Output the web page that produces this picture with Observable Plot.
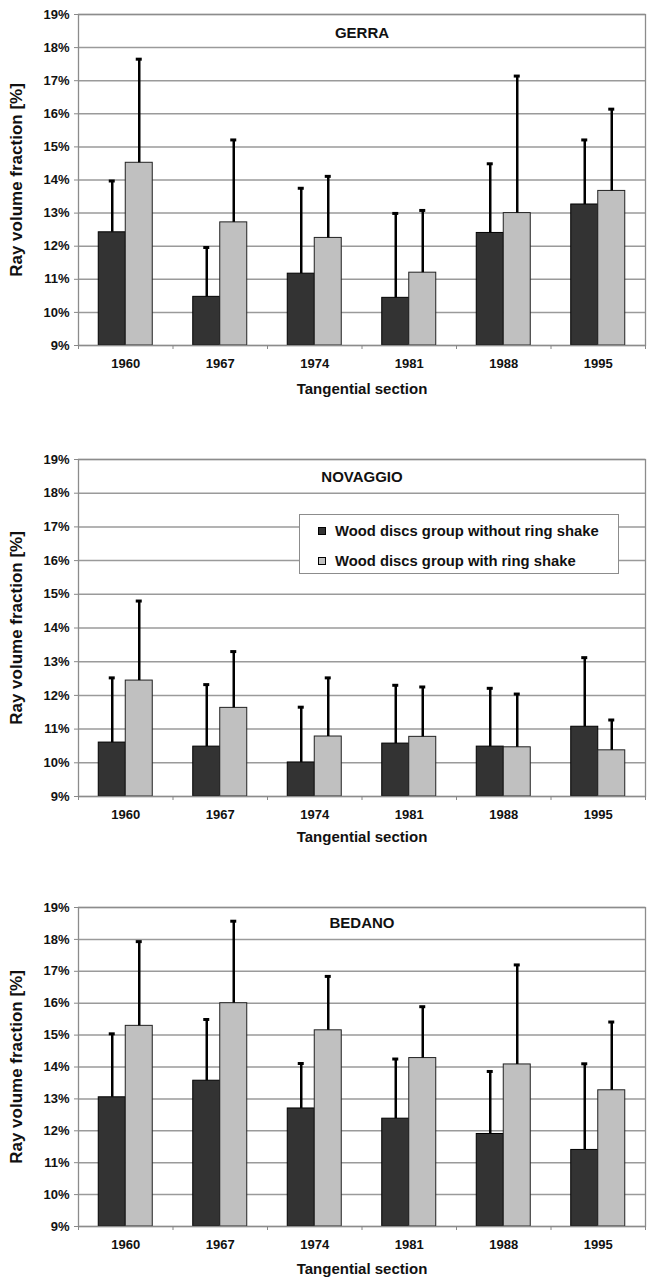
<!DOCTYPE html>
<html>
<head>
<meta charset="utf-8">
<script src="https://cdn.jsdelivr.net/npm/d3@7"></script>
<script src="https://cdn.jsdelivr.net/npm/@observablehq/plot@0.6"></script>
<style>
  html, body { margin: 0; padding: 0; background: #fff; }
  #wrap { position: relative; width: 650px; height: 1278px; overflow: hidden; font-family: "Liberation Sans", Arial, sans-serif; }
  .panel { position: absolute; left: 0; width: 650px; }
  .legend { position: absolute; left: 299px; top: 514px; width: 320px; height: 60px; box-sizing: border-box;
            border: 1px solid #8c8c8c; background: #fff; font-weight: bold; font-size: 14.8px; color: #111; }
  .legend .row { position: absolute; left: 18px; display: flex; align-items: center; white-space: nowrap; line-height: 16px; }
  .legend .sw { width: 8px; height: 8px; border: 1px solid #000; margin-right: 9px; box-sizing: border-box; }
</style>
</head>
<body>
<div id="wrap"></div>
<script>
// ---- data ----
const years = ["1960", "1967", "1974", "1981", "1988", "1995"];
const groups = ["Wood discs group without ring shake", "Wood discs group with ring shake"];
const sites = ["GERRA", "NOVAGGIO", "BEDANO"];
const yTicks = [9, 10, 11, 12, 13, 14, 15, 16, 17, 18, 19];
const yLabel = "Ray volume fraction [%]";
const xLabel = "Tangential section";

const gerraWithout      = [12.42, 10.47, 11.17, 10.44, 12.40, 13.26];
const gerraWithoutUpper = [13.97, 11.96, 13.75, 12.99, 14.49, 15.21];
const gerraWith         = [14.52, 12.72, 12.25, 11.20, 13.00, 13.67];
const gerraWithUpper    = [17.65, 15.21, 14.11, 13.08, 17.14, 16.14];

const novaggioWithout      = [10.60, 10.48, 10.01, 10.57, 10.48, 11.07];
const novaggioWithoutUpper = [12.52, 12.32, 11.65, 12.30, 12.21, 13.12];
const novaggioWith         = [12.44, 11.63, 10.78, 10.77, 10.46, 10.37];
const novaggioWithUpper    = [14.80, 13.30, 12.52, 12.25, 12.04, 11.27];

const bedanoWithout      = [13.05, 13.57, 12.70, 12.38, 11.90, 11.40];
const bedanoWithoutUpper = [15.04, 15.49, 14.11, 14.25, 13.86, 14.10];
const bedanoWith         = [15.29, 16.00, 15.15, 14.28, 14.08, 13.27];
const bedanoWithUpper    = [17.93, 18.57, 16.84, 15.89, 17.20, 15.41];

// ---- build tables ----
function table(mean, upper, group) {
  return years.map((year, i) => ({year, group, value: mean[i], upper: upper[i]}));
}
const siteData = {
  GERRA: [table(gerraWithout, gerraWithoutUpper, groups[0]), table(gerraWith, gerraWithUpper, groups[1])],
  NOVAGGIO: [table(novaggioWithout, novaggioWithoutUpper, groups[0]), table(novaggioWith, novaggioWithUpper, groups[1])],
  BEDANO: [table(bedanoWithout, bedanoWithoutUpper, groups[0]), table(bedanoWith, bedanoWithUpper, groups[1])]
};

// ---- layout / style ----
const W = 650, ML = 78, MR = 5;
const half = (W - ML - MR) / years.length / 2;
const barW = 27;
const capHalf = 3;
const darkFill = "#333333", lightFill = "#c0c0c0";
const gridColor = "#9a9a9a";
const font = '"Liberation Sans", Arial, sans-serif';

const layout = [
  {site: "GERRA", top: 0, height: 400, marginTop: 14, marginBottom: 55, titleDy: 19, xLabDy: 44},
  {site: "NOVAGGIO", top: 400, height: 450, marginTop: 59, marginBottom: 54, titleDy: 18, xLabDy: 41},
  {site: "BEDANO", top: 850, height: 428, marginTop: 57, marginBottom: 52, titleDy: 16, xLabDy: 43}
];

const wrap = document.getElementById("wrap");

for (const L of layout) {
  const [dark, light] = siteData[L.site];
  const chart = Plot.plot({
    width: W,
    height: L.height,
    marginTop: L.marginTop,
    marginBottom: L.marginBottom,
    marginLeft: ML,
    marginRight: MR,
    style: {fontFamily: font, fontSize: "13px", fontWeight: "bold", color: "#111", background: "transparent"},
    x: {domain: years, padding: 0, round: false, axis: null},
    y: {domain: [yTicks[0], yTicks[yTicks.length - 1]], axis: null},
    marks: [
      Plot.ruleY(yTicks, {stroke: gridColor, strokeWidth: 1.5}),
      Plot.barY(dark, {x: "year", y1: yTicks[0], y2: "value", fill: darkFill, stroke: "#000", strokeWidth: 1,
                       insetLeft: half - barW, insetRight: half}),
      Plot.barY(light, {x: "year", y1: yTicks[0], y2: "value", fill: lightFill, stroke: "#222", strokeWidth: 1,
                        insetLeft: half, insetRight: half - barW}),
      Plot.ruleX(dark, {x: "year", y1: "value", y2: "upper", dx: -barW / 2, stroke: "#000", strokeWidth: 2.5}),
      Plot.ruleX(light, {x: "year", y1: "value", y2: "upper", dx: barW / 2, stroke: "#000", strokeWidth: 2.5}),
      Plot.tickY(dark, {x: "year", y: "upper", dx: -barW / 2, insetLeft: half - capHalf, insetRight: half - capHalf,
                        stroke: "#000", strokeWidth: 3}),
      Plot.tickY(light, {x: "year", y: "upper", dx: barW / 2, insetLeft: half - capHalf, insetRight: half - capHalf,
                         stroke: "#000", strokeWidth: 3}),
      Plot.frame({stroke: "#8c8c8c", strokeWidth: 1.3}),
      Plot.axisY({ticks: yTicks, tickFormat: d => d + "%", tickSize: 4, tickPadding: 5, label: null,
                  stroke: "#888", fill: "#111"}),
      Plot.axisX({tickSize: 0, tickPadding: 13, label: null, fill: "#111"}),
      Plot.axisX({ticks: years, tickSize: 4, tickFormat: () => "", label: null, dx: -half, stroke: "#888"}),
      Plot.axisX({ticks: [years[years.length - 1]], tickSize: 4, tickFormat: () => "", label: null, dx: half, stroke: "#888"}),
      Plot.text([L.site], {text: d => d, frameAnchor: "top", lineAnchor: "middle", dy: L.titleDy, fontSize: 15, fill: "#111"}),
      Plot.text([yLabel], {text: d => d, frameAnchor: "left", textAnchor: "middle", lineAnchor: "middle",
                           dx: -62, rotate: -90, fontSize: 17, fill: "#111"}),
      Plot.text([xLabel], {text: d => d, frameAnchor: "bottom", lineAnchor: "middle", dy: L.xLabDy, fontSize: 15, fill: "#111"})
    ]
  });
  const div = document.createElement("div");
  div.className = "panel";
  div.style.top = L.top + "px";
  div.appendChild(chart);
  wrap.appendChild(div);
}

// legend (inside NOVAGGIO panel area)
const legend = document.createElement("div");
legend.className = "legend";
const fills = [darkFill, lightFill];
groups.forEach((g, i) => {
  const row = document.createElement("div");
  row.className = "row";
  row.style.top = (i === 0 ? 8 : 38) + "px";
  const sw = document.createElement("span");
  sw.className = "sw";
  sw.style.background = fills[i];
  const t = document.createElement("span");
  t.textContent = g;
  row.appendChild(sw);
  row.appendChild(t);
  legend.appendChild(row);
});
wrap.appendChild(legend);
</script>
</body>
</html>
